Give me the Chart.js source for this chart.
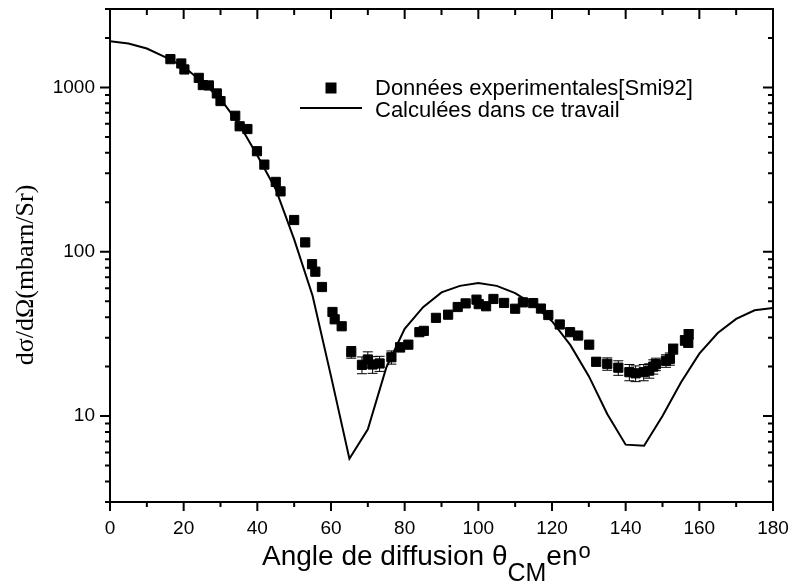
<!DOCTYPE html>
<html><head><meta charset="utf-8">
<script src="https://cdn.jsdelivr.net/npm/chart.js@4.4.1/dist/chart.umd.min.js"></script>
<style>html,body{margin:0;padding:0;background:#fff}#wrap{width:791px;height:587px}</style>
</head><body><div id="wrap"><canvas id="c" width="791" height="587"></canvas></div>
<script>
// ---- data ----
const expAngles = [16.4,19.35,20.2,24.1,25.2,26.85,29.0,30.0,34.0,35.2,37.3,39.9,41.9,45.0,46.3,50.0,53.0,54.85,55.75,57.55,60.4,61.0,62.9,65.5,68.4,70.0,71.3,73.2,76.4,78.75,81.0,84.0,85.2,88.5,91.8,94.4,96.55,99.5,100.1,102.1,104.1,107.0,110.0,112.1,114.9,117.0,119.0,122.1,124.9,127.1,130.1,132.0,135.0,138.0,141.0,142.7,144.9,146.4,147.5,148.2,150.95,152.0,152.9,156.1,157.0,157.1];
const expValues = [1486,1398,1286,1143,1033,1028,919,826,672,580,558,409,339,266,233,156,114,84,75.6,61,43,38.8,35.2,24.5,20.5,22.1,20.6,20.9,22.8,26.2,27.2,32.4,33.0,39.6,41.4,46.1,48.5,51.1,48.0,46.6,51.6,48.8,45.0,49.2,48.7,45.1,41.2,36.1,32.4,30.9,27.2,21.4,20.8,19.7,18.5,18.2,18.5,18.9,20.0,20.7,21.7,22.3,25.6,28.9,28.0,31.5];
const expErrors = [null,null,null,null,null,null,null,null,null,null,null,null,null,null,null,null,null,null,null,null,null,null,null,2.0,2.4,2.5,2.4,2.2,2.1,1.6,null,null,null,null,null,null,null,null,null,null,null,null,null,null,null,null,null,null,null,null,null,1.2,1.8,2.0,2.1,2.0,2.1,1.9,2.0,1.8,1.9,1.9,1.8,1.9,1.8,2.0];
const theoryAngles = [0,5,10,15,20,25,30,35,40,45,50,55,60,65,70,75,80,85,90,95,100,105,110,115,120,125,130,135,140,145,150,155,160,165,170,175,180];
const theoryValues = [1910,1850,1725,1530,1340,1080,850,600,385,240,119,54,17.5,5.5,8.3,19.7,34,46,56.6,62,64.6,62,56,47.7,37.8,27,17.5,10.3,6.7,6.6,10,16,24,32,39,44,45.5];
const xTickMarks = [0,10,20,30,40,50,60,70,80,90,100,110,120,130,140,150,160,170,180];
const xTickLabels = [0,20,40,60,80,100,120,140,160,180];
const yTickMarks = [3,4,5,6,7,8,9,10,20,30,40,50,60,70,80,90,100,200,300,400,500,600,700,800,900,1000,2000,3000];
const yTickLabels = [10,100,1000];
const seriesLabels = ['Données experimentales[Smi92]','Calculées dans ce travail'];
const xTitleParts = ['Angle de diffusion θ','CM','en','o'];
const yTitle = 'dσ/dΩ(mbarn/Sr)';

const SANS = "'Liberation Sans', Arial, Helvetica, sans-serif";
const SERIF = "'Liberation Serif', 'Times New Roman', serif";

const framePlugin = {
  id: 'frame',
  afterDatasetsDraw(chart) {
    const ctx = chart.ctx, x = chart.scales.x, y = chart.scales.y;
    ctx.save();
    ctx.strokeStyle = '#000'; ctx.lineWidth = 1;
    expAngles.forEach((a, i) => {
      const e = expErrors[i];
      if (e == null) return;
      const px = x.getPixelForValue(a);
      const pt = y.getPixelForValue(expValues[i] + e);
      const pb = y.getPixelForValue(expValues[i] - e);
      ctx.beginPath();
      ctx.moveTo(px, pt); ctx.lineTo(px, pb);
      ctx.moveTo(px - 5, pt); ctx.lineTo(px + 5, pt);
      ctx.moveTo(px - 5, pb); ctx.lineTo(px + 5, pb);
      ctx.stroke();
    });
    ctx.restore();
  },
  afterDraw(chart) {
    const ctx = chart.ctx, a = chart.chartArea, x = chart.scales.x, y = chart.scales.y;
    ctx.save();
    ctx.strokeStyle = '#000';
    ctx.lineWidth = 2;
    ctx.strokeRect(a.left, a.top, a.right - a.left, a.bottom - a.top);
    ctx.beginPath();
    xTickMarks.forEach(v => {
      const px = x.getPixelForValue(v);
      const major = xTickLabels.includes(v);
      ctx.moveTo(px, a.bottom); ctx.lineTo(px, a.bottom + (major ? 9 : 5));
      ctx.moveTo(px, a.top); ctx.lineTo(px, a.top + (major ? 10 : 6));
    });
    yTickMarks.forEach(v => {
      const py = y.getPixelForValue(v);
      const major = yTickLabels.includes(v);
      ctx.moveTo(a.left, py); ctx.lineTo(a.left - (major ? 10 : 5), py);
      ctx.moveTo(a.right, py); ctx.lineTo(a.right - (major ? 10 : 5), py);
    });
    ctx.stroke();

    // legend
    const ds0 = chart.data.datasets[0], ds1 = chart.data.datasets[1];
    ctx.fillStyle = '#000';
    ctx.fillRect(325.5, 82.5, 11, 11);
    ctx.lineWidth = 2;
    ctx.beginPath(); ctx.moveTo(300, 108); ctx.lineTo(362, 108); ctx.stroke();
    ctx.font = '22px ' + SANS;
    ctx.textAlign = 'left'; ctx.textBaseline = 'alphabetic';
    ctx.fillText(ds0.label, 375, 95);
    ctx.fillText(ds1.label, 375, 117);

    // x title with subscript / superscript
    let cx = 262;
    const base = 565;
    ctx.font = '28px ' + SANS;
    ctx.fillText(xTitleParts[0], cx, base); cx += ctx.measureText(xTitleParts[0]).width;
    ctx.font = '25px ' + SANS;
    ctx.fillText(xTitleParts[1], cx, base + 16); cx += ctx.measureText(xTitleParts[1]).width;
    ctx.font = '28px ' + SANS;
    ctx.fillText(xTitleParts[2], cx, base); cx += ctx.measureText(xTitleParts[2]).width + 1;
    ctx.font = '22px ' + SANS;
    ctx.fillText(xTitleParts[3], cx, base - 7);

    // y title
    ctx.translate(33, 275);
    ctx.rotate(-Math.PI / 2);
    ctx.font = '26px ' + SERIF;
    ctx.textAlign = 'center';
    ctx.fillText(yTitle, 0, 0);
    ctx.restore();
  }
};

function zeroPad(s) { s.paddingLeft = 0; s.paddingRight = 0; s.paddingTop = 0; s.paddingBottom = 0; }

new Chart(document.getElementById('c'), {
  type: 'scatter',
  data: {
    datasets: [
      {
        label: seriesLabels[0],
        data: expAngles.map((a, i) => ({x: a, y: expValues[i]})),
        pointStyle: 'rect',
        pointRadius: 6.5,
        pointBorderWidth: 1,
        pointBackgroundColor: '#000',
        pointBorderColor: '#000',
        showLine: false
      },
      {
        label: seriesLabels[1],
        data: theoryAngles.map((a, i) => ({x: a, y: theoryValues[i]})),
        showLine: true,
        borderColor: '#000',
        borderWidth: 2,
        pointRadius: 0,
        tension: 0,
        fill: false
      }
    ]
  },
  plugins: [framePlugin],
  options: {
    responsive: false,
    animation: false,
    devicePixelRatio: 1,
    layout: {padding: {left: 0, right: 18, top: 9, bottom: 0}},
    plugins: {legend: {display: false}, tooltip: {enabled: false}, title: {display: false}},
    scales: {
      x: {
        type: 'linear', position: 'bottom', min: 0, max: 180,
        grid: {display: false, drawTicks: false},
        border: {display: false},
        afterBuildTicks: s => { s.ticks = xTickLabels.map(v => ({value: v})); },
        afterFit: s => { s.height = 85; zeroPad(s); },
        ticks: {autoSkip: false, maxRotation: 0, padding: 15, color: '#000',
          font: {family: SANS, size: 19}, callback: v => String(v)}
      },
      y: {
        type: 'logarithmic', position: 'left', min: 3, max: 3000,
        grid: {display: false, drawTicks: false},
        border: {display: false},
        afterBuildTicks: s => { s.ticks = yTickLabels.map(v => ({value: v})); },
        afterFit: s => { s.width = 110; zeroPad(s); },
        ticks: {autoSkip: false, padding: 15, color: '#000',
          font: {family: SANS, size: 19}, callback: v => String(v)}
      }
    }
  }
});
</script>
</body></html>
